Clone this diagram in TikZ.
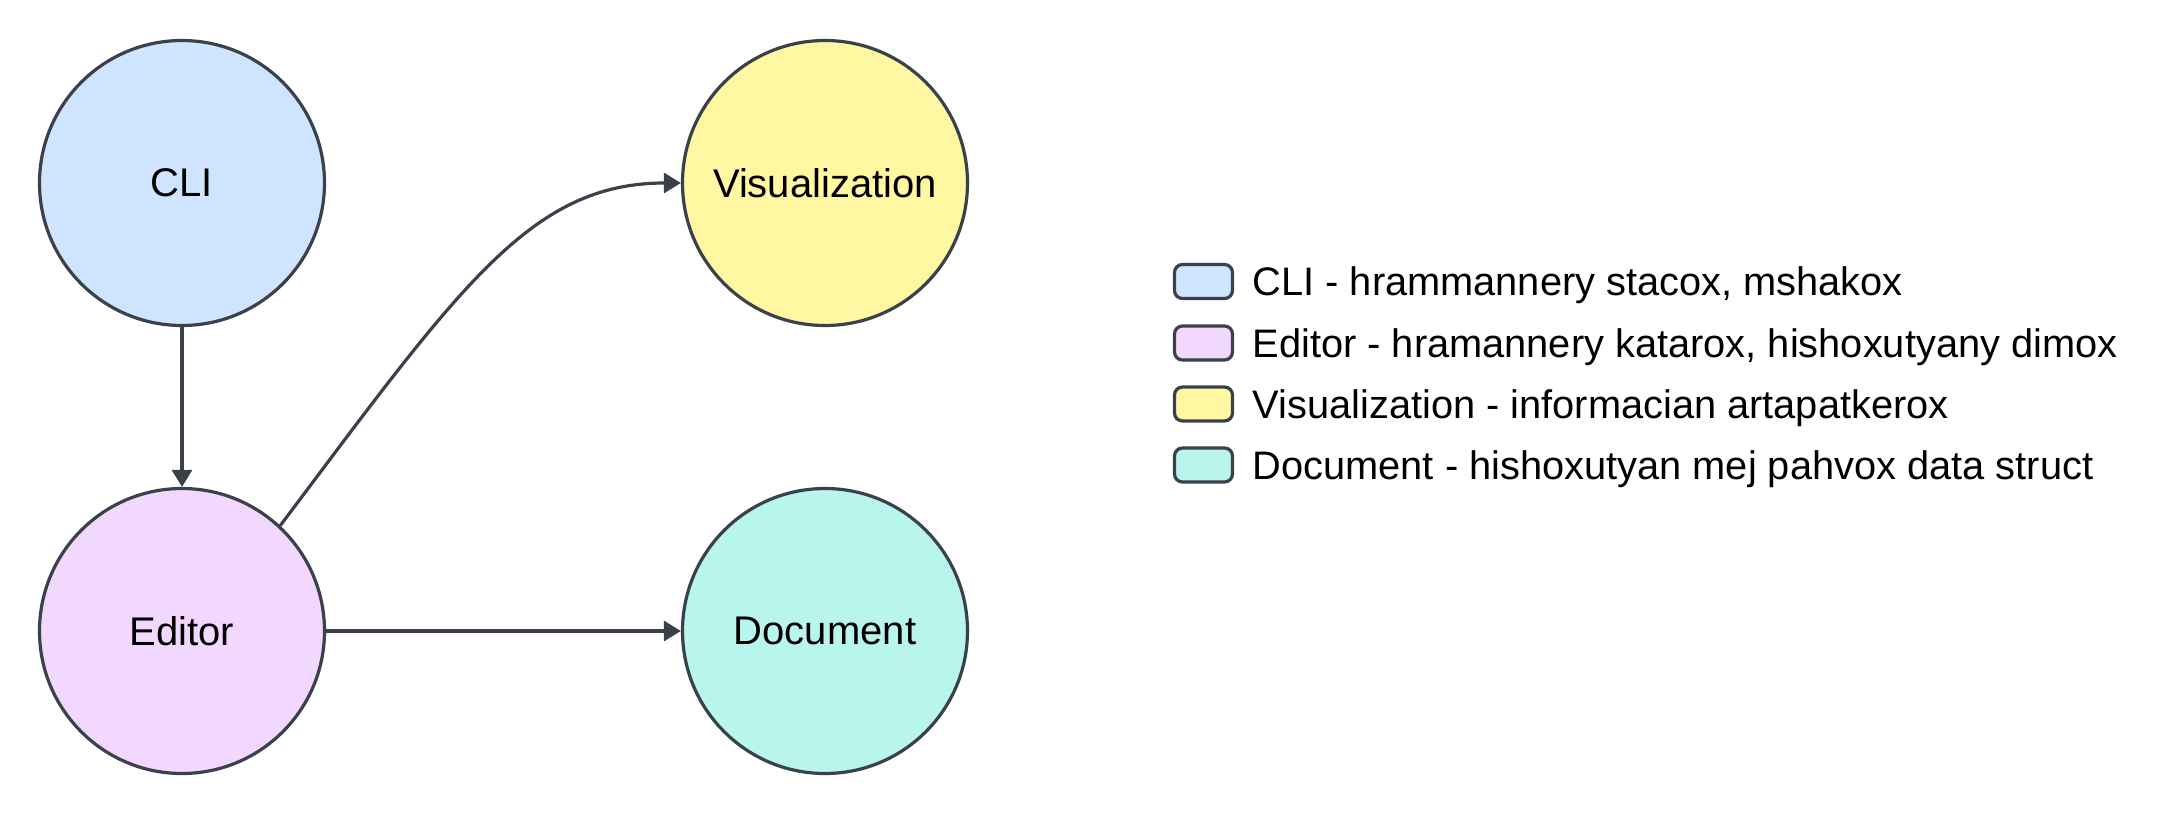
\documentclass[tikz,border=0pt]{standalone}
\usepackage{fontspec}
\setmainfont{Liberation Sans}
\usetikzlibrary{arrows.meta}

\definecolor{strokegray}{HTML}{3A414A}
\definecolor{clifill}{HTML}{CFE4FF}
\definecolor{editorfill}{HTML}{F2D7FE}
\definecolor{visfill}{HTML}{FFF7A1}
\definecolor{docfill}{HTML}{B8F5ED}

\tikzset{every picture/.style={line width=1.6pt}}
\tikzset{
  state/.style={circle, draw=strokegray, minimum size=142.5pt, inner sep=0pt, font=\fontsize{20}{24}\selectfont},
  link/.style={draw=strokegray, -{Triangle[length=8.5pt,width=10pt]}},
  legendbox/.style={rectangle, rounded corners=4pt, draw=strokegray, minimum width=29pt, minimum height=17pt, inner sep=0pt},
  legendtext/.style={anchor=base west, inner sep=0pt, font=\fontsize{19.9}{24}\selectfont}
}

\begin{document}
\begin{tikzpicture}[x=0.5pt,y=0.5pt,yscale=-1,xscale=1]
\path[use as bounding box] (0,0) rectangle (2164,815); %set diagram size 2164x815

%Shape: Circle [CLI]
\node [state, fill=clifill] (cli) at (182,183) {CLI};
%Shape: Circle [Editor]
\node [state, fill=editorfill] (editor) at (182,631) {Editor};
%Shape: Circle [Visualization]
\node [state, fill=visfill] (vis) at (825,183) {Visualization};
%Shape: Circle [Document]
\node [state, fill=docfill] (doc) at (825,631) {Document};

%Straight Lines
\draw [link] (cli.south) -- (editor.north) ;
%Straight Lines
\draw [link] (editor.east) -- (doc.west) ;
%Curve Lines
\draw [link] (editor.47) .. controls +(180,-240) and +(-150,0) .. (vis.west) ;

%Legend boxes
\node [legendbox, fill=clifill] (keycli) at (1203.5,281.5) {};
\node [legendbox, fill=editorfill] (keyeditor) at (1203.5,343) {};
\node [legendbox, fill=visfill] (keyvis) at (1203.5,404) {};
\node [legendbox, fill=docfill] (keydoc) at (1203.5,465) {};

% Text Node
\node [legendtext] (txtcli) at (1251,295.5) {CLI - hrammannery stacox, mshakox};
% Text Node
\node [legendtext] (txteditor) at (1251,357) {Editor - hramannery katarox, hishoxutyany dimox};
% Text Node
\node [legendtext] (txtvis) at (1251,418) {Visualization - informacian artapatkerox};
% Text Node
\node [legendtext] (txtdoc) at (1251,479) {Document - hishoxutyan mej pahvox data struct};

\end{tikzpicture}
\end{document}
